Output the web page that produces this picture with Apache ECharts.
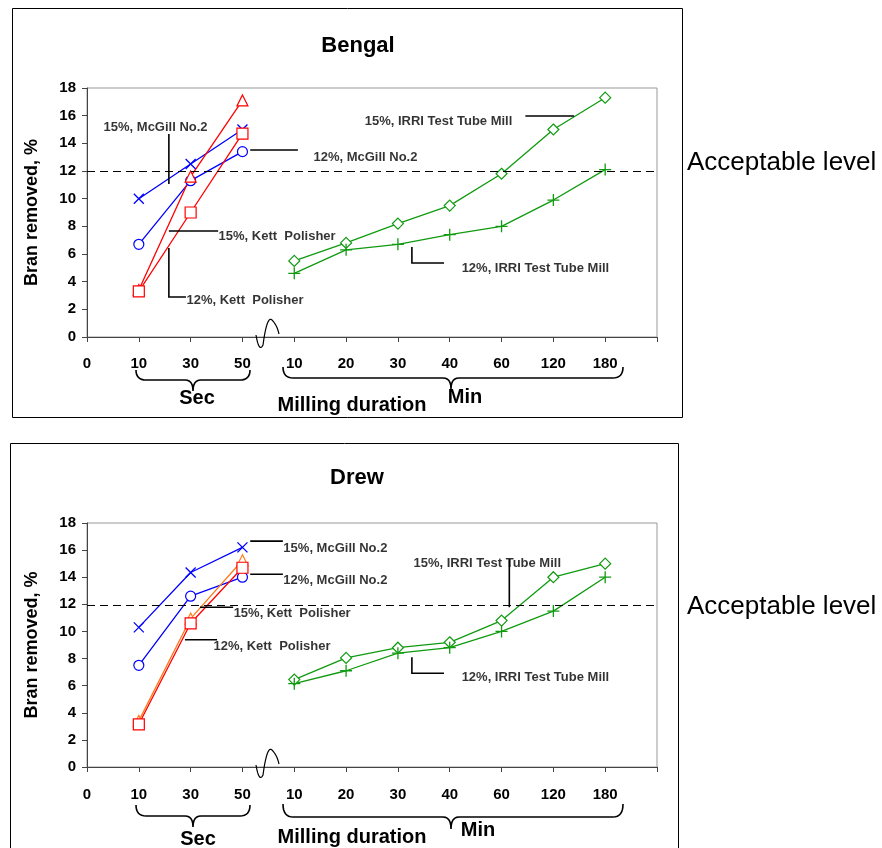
<!DOCTYPE html>
<html>
<head>
<meta charset="utf-8">
<script src="https://cdn.jsdelivr.net/npm/echarts@6/dist/echarts.min.js"></script>
<style>
html,body{margin:0;padding:0;background:#fff;}
#chart{width:882px;height:848px;}
</style>
</head>
<body>
<div id="chart"></div>
<script>
// ---- data ----
const xTickLabels = ['0', '10', '30', '50', '10', '20', '30', '40', '60', '120', '180', ''];
const secPositions = [1, 2, 3];            // 10, 30, 50 s
const minPositions = [4, 5, 6, 7, 8, 9, 10]; // 10..180 min

const bengalMcGill15 = [10.0, 12.5, 15.0];
const bengalMcGill12 = [6.7, 11.3, 13.4];
const bengalKett15 = [3.4, 11.6, 17.1];
const bengalKett12 = [3.3, 9.0, 14.7];
const bengalIrri15 = [5.5, 6.8, 8.2, 9.5, 11.8, 15.0, 17.3];
const bengalIrri12 = [4.6, 6.3, 6.7, 7.4, 8.0, 9.9, 12.1];
const bengalAcceptable = 12;

const drewMcGill15 = [10.3, 14.35, 16.2];
const drewMcGill12 = [7.5, 12.6, 14.0];
const drewKett15 = [3.4, 10.95, 15.25];
const drewKett12 = [3.15, 10.6, 14.7];
const drewIrri15 = [6.45, 8.05, 8.8, 9.2, 10.8, 14.0, 15.0];
const drewIrri12 = [6.15, 7.1, 8.4, 8.8, 10.0, 11.5, 14.0];
const drewAcceptable = 11.9;

const yTicks = [0, 2, 4, 6, 8, 10, 12, 14, 16, 18];

// ---- styling / layout ----
const FONT = "'Liberation Sans', Arial, Helvetica, sans-serif";
const BLUE = '#0000ff', RED = '#ff0000', ORANGE = '#ff7a1a', GREEN = '#109a10';
const SYM_X = 'path://M0,0L10,10M10,0L0,10';
const SYM_PLUS = 'path://M5,0L5,10M0,5L10,5';

const grids = [
  {left: 87, top: 88, width: 570, height: 249},
  {left: 87, top: 523, width: 570, height: 244}
];

function pairs(xs, ys) { return ys.map((v, i) => [xs[i], v]); }

function lineSeries(gi, xs, ys, color, symbol, size, extra) {
  const isPath = symbol === SYM_X || symbol === SYM_PLUS;
  return Object.assign({
    type: 'line', xAxisIndex: gi, yAxisIndex: gi,
    data: pairs(xs, ys), symbol: symbol, symbolSize: size, showSymbol: true,
    lineStyle: {color: color, width: 1.3},
    itemStyle: {color: isPath ? color : '#fff', borderColor: color, borderWidth: isPath ? 1.3 : 1.2},
    emphasis: {disabled: true}, silent: true, animation: false, z: 3
  }, extra || {});
}

function accLine(value) {
  return {
    silent: true, symbol: ['none', 'none'],
    lineStyle: {type: [8, 5], color: '#000', width: 1},
    label: {show: false},
    data: [{yAxis: value}]
  };
}

function annotations(gi, items) {
  return [
    {
      type: 'lines', coordinateSystem: 'cartesian2d', xAxisIndex: gi, yAxisIndex: gi,
      polyline: true, silent: true, animation: false, z: 4,
      lineStyle: {color: '#000', width: 1.6, opacity: 1},
      data: items.map(it => ({coords: it.leader}))
    },
    {
      type: 'scatter', xAxisIndex: gi, yAxisIndex: gi, symbolSize: 1, silent: true, animation: false, z: 5,
      itemStyle: {color: 'transparent'},
      label: {show: true, position: 'right', distance: 0, formatter: '{b}', color: '#000',
              fontFamily: FONT, fontWeight: 'bold', fontSize: 13},
      data: items.map(it => ({name: it.text, value: it.at}))
    }
  ];
}

const bengalNotes = [
  {text: '15%, McGill No.2', at: [0.31, 15.18], leader: [[1.58, 14.68], [1.58, 11.06]]},
  {text: '12%, McGill No.2', at: [4.36, 13.0], leader: [[3.15, 13.52], [4.07, 13.52]]},
  {text: '15%, Kett  Polisher', at: [2.53, 7.3], leader: [[1.58, 7.66], [2.53, 7.66]]},
  {text: '12%, Kett  Polisher', at: [1.91, 2.68], leader: [[1.58, 6.44], [1.58, 2.89], [1.91, 2.89]]},
  {text: '15%, IRRI Test Tube Mill', at: [5.35, 15.62], leader: [[8.46, 15.98], [9.4, 15.98]]},
  {text: '12%, IRRI Test Tube Mill', at: [7.22, 4.99], leader: [[6.27, 6.51], [6.27, 5.35], [6.89, 5.35]]}
];
const drewNotes = [
  {text: '15%, McGill No.2', at: [3.78, 16.14], leader: [[3.15, 16.66], [3.78, 16.66]]},
  {text: '12%, McGill No.2', at: [3.78, 13.78], leader: [[3.15, 14.22], [3.78, 14.22]]},
  {text: '15%, Kett  Polisher', at: [2.82, 11.34], leader: [[2.18, 11.79], [2.82, 11.79]]},
  {text: '12%, Kett  Polisher', at: [2.43, 8.91], leader: [[1.89, 9.39], [2.51, 9.39]]},
  {text: '15%, IRRI Test Tube Mill', at: [6.29, 15.03], leader: [[8.15, 15.33], [8.15, 11.79]]},
  {text: '12%, IRRI Test Tube Mill', at: [7.22, 6.62], leader: [[6.27, 8.1], [6.27, 6.92], [6.89, 6.92]]}
];

function xAxis(gi, margin) {
  return {
    type: 'value', gridIndex: gi, min: 0, max: 11, interval: 1,
    axisLine: {show: true, lineStyle: {color: '#444', width: 1}},
    axisTick: {show: true, length: 5, lineStyle: {color: '#444'}},
    splitLine: {show: false},
    axisLabel: {margin: margin, fontFamily: FONT, fontWeight: 'bold', fontSize: 15, color: '#000',
                formatter: v => xTickLabels[v] || ''}
  };
}
function yAxis(gi) {
  return {
    type: 'value', gridIndex: gi, min: yTicks[0], max: yTicks[yTicks.length - 1], interval: yTicks[1] - yTicks[0],
    name: 'Bran removed, %', nameLocation: 'middle', nameGap: 46,
    nameTextStyle: {fontFamily: FONT, fontWeight: 'bold', fontSize: 18, color: '#000'},
    axisLine: {show: true, lineStyle: {color: '#444', width: 1}},
    axisTick: {show: true, length: 5, lineStyle: {color: '#444'}},
    splitLine: {show: false},
    axisLabel: {margin: 11, fontFamily: FONT, fontWeight: 'bold', fontSize: 15, color: '#000'}
  };
}

// sample quadratic bezier segments into polyline points
function quad(p0, c, p1, n) {
  const out = [];
  for (let i = 1; i <= n; i++) {
    const t = i / n, u = 1 - t;
    out.push([u * u * p0[0] + 2 * u * t * c[0] + t * t * p1[0], u * u * p0[1] + 2 * u * t * c[1] + t * t * p1[1]]);
  }
  return out;
}
function bracePoints(x1, x2, xm, yTop, yMid, yTip) {
  let pts = [[x1, yTop]];
  pts = pts.concat(quad([x1, yTop], [x1, yMid], [x1 + 10, yMid], 8));
  pts.push([xm - 8, yMid]);
  pts = pts.concat(quad([xm - 8, yMid], [xm, yMid], [xm, yTip], 6));
  pts = pts.concat(quad([xm, yTip], [xm, yMid], [xm + 8, yMid], 6));
  pts.push([x2 - 10, yMid]);
  pts = pts.concat(quad([x2 - 10, yMid], [x2, yMid], [x2, yTop], 8));
  return pts;
}
function squigglePoints(y0) {
  let pts = [[256, y0 - 2]];
  pts = pts.concat(quad([256, y0 - 2], [259, y0 + 16], [263, y0 + 8], 8));
  pts = pts.concat(quad([263, y0 + 8], [267, y0 - 22], [272, y0 - 17], 10));
  pts = pts.concat(quad([272, y0 - 17], [277, y0 - 12], [279, y0 - 3], 8));
  return pts;
}
function poly(points, w) {
  return {type: 'polyline', silent: true, z: 10, shape: {points: points},
          style: {fill: null, stroke: '#000', lineWidth: w}};
}
function txt(x, y, text, size, weight) {
  return {type: 'text', x: x, y: y, silent: true, z: 10,
          style: {text: text, font: `${weight || 'bold'} ${size}px ${FONT}`, fill: '#000',
                  textAlign: 'center', textVerticalAlign: 'middle'}};
}

const option = {
  backgroundColor: '#fff',
  animation: false,
  title: [
    {text: 'Bengal', left: 353, top: 30, textAlign: 'center',
     textStyle: {fontFamily: FONT, fontWeight: 'bold', fontSize: 22, color: '#000'}},
    {text: 'Drew', left: 352, top: 462, textAlign: 'center',
     textStyle: {fontFamily: FONT, fontWeight: 'bold', fontSize: 22, color: '#000'}}
  ],
  grid: grids.map(g => Object.assign({show: true, borderColor: '#999', borderWidth: 1, backgroundColor: 'transparent'}, g)),
  xAxis: [xAxis(0, 19), xAxis(1, 20)],
  yAxis: [yAxis(0), yAxis(1)],
  series: [
    lineSeries(0, secPositions, bengalMcGill15, BLUE, SYM_X, 10),
    lineSeries(0, secPositions, bengalMcGill12, BLUE, 'circle', 10),
    lineSeries(0, secPositions, bengalKett15, RED, 'triangle', 11),
    lineSeries(0, secPositions, bengalKett12, RED, 'rect', 11),
    lineSeries(0, minPositions, bengalIrri15, GREEN, 'diamond', 11, {markLine: accLine(bengalAcceptable)}),
    lineSeries(0, minPositions, bengalIrri12, GREEN, SYM_PLUS, 12),
    ...annotations(0, bengalNotes),

    lineSeries(1, secPositions, drewMcGill15, BLUE, SYM_X, 10),
    lineSeries(1, secPositions, drewMcGill12, BLUE, 'circle', 10),
    lineSeries(1, secPositions, drewKett15, ORANGE, 'triangle', 11),
    lineSeries(1, secPositions, drewKett12, RED, 'rect', 11),
    lineSeries(1, minPositions, drewIrri15, GREEN, 'diamond', 11, {markLine: accLine(drewAcceptable)}),
    lineSeries(1, minPositions, drewIrri12, GREEN, SYM_PLUS, 12),
    ...annotations(1, drewNotes)
  ],
  graphic: [
    {type: 'rect', silent: true, z: 0, shape: {x: 12.5, y: 8.5, width: 670, height: 409},
     style: {fill: null, stroke: '#000', lineWidth: 1}},
    {type: 'rect', silent: true, z: 0, shape: {x: 10.5, y: 443.5, width: 668, height: 430},
     style: {fill: null, stroke: '#000', lineWidth: 1}},
    poly(squigglePoints(337), 1.2),
    poly(squigglePoints(767), 1.2),
    poly(bracePoints(136, 250, 193, 370, 380, 391), 1.6),
    poly(bracePoints(283, 623, 451, 367, 378, 389), 1.6),
    txt(197, 398, 'Sec', 20),
    txt(352, 405, 'Milling duration', 20),
    txt(465, 397, 'Min', 20),
    poly(bracePoints(136, 250, 193, 805, 816, 827), 1.6),
    poly(bracePoints(283, 623, 451, 804, 817, 829), 1.6),
    txt(198, 839, 'Sec', 20),
    txt(352, 837, 'Milling duration', 20),
    txt(478, 830, 'Min', 20)
  ]
};

const chart = echarts.init(document.getElementById('chart'), null, {renderer: 'canvas'});
chart.setOption(option);

// "Acceptable level" captions placed next to the end of each dashed level line
const p0 = chart.convertToPixel({gridIndex: 0}, [11, bengalAcceptable]);
const p1 = chart.convertToPixel({gridIndex: 1}, [11, drewAcceptable]);
const capStyle = (x, y) => ({type: 'text', x: x, y: y, silent: true, z: 10,
  style: {text: 'Acceptable level', font: `26px ${FONT}`, fill: '#000', textAlign: 'left', textVerticalAlign: 'middle'}});
option.graphic.push(capStyle(p0[0] + 30, p0[1] - 8), capStyle(p1[0] + 30, p1[1] + 1));
chart.setOption({graphic: option.graphic});
</script>
</body>
</html>
